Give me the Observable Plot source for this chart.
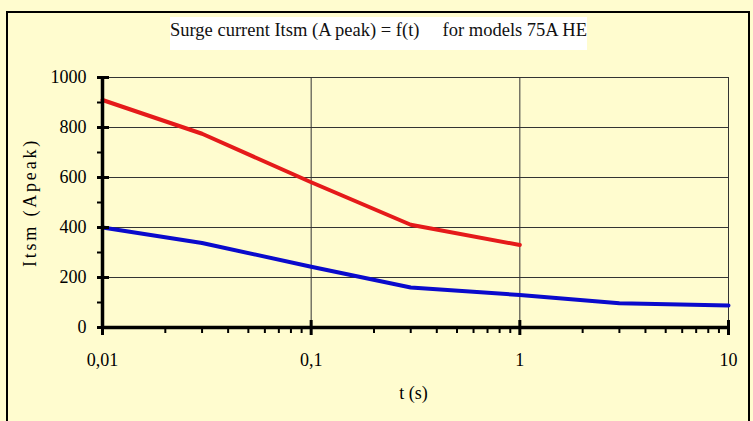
<!DOCTYPE html>
<html><head><meta charset="utf-8">
<script src="https://cdn.jsdelivr.net/npm/d3@7"></script>
<script src="https://cdn.jsdelivr.net/npm/@observablehq/plot@0.6"></script>
<style>
body{margin:0;background:#fff;}
#wrap{position:relative;width:753px;height:421px;background:#FFFCCF;overflow:hidden;font-family:"Liberation Serif","Times New Roman",serif;}
#frame{position:absolute;left:6px;top:11px;width:740px;height:420px;border:2px solid #000;border-bottom:none;}
#title{position:absolute;left:170px;top:17px;height:33px;line-height:26px;font-size:18.5px;background:#fff;white-space:pre;color:#111;}
#chart{position:absolute;left:0;top:0;width:753px;height:421px;}
#chart svg text{font-family:"Liberation Serif","Times New Roman",serif !important;font-variant:normal !important;}
</style></head><body>
<div id="wrap"><div id="frame"></div><div id="chart"></div><div id="title"></div></div>
<script>
const titleText = "Surge current Itsm (A peak) = f(t)     for models 75A HE";
const yLabel = "Itsm (Apeak)";
const xLabel = "t (s)";
const times = [0.01, 0.03, 0.1, 0.3, 1, 3, 10];
const redTimes = [0.01, 0.03, 0.1, 0.3, 1];
const redValues = [910, 775, 581, 411, 330];
const blueValues = [400, 338, 243, 160, 130, 97, 88];
const yMajor = [0, 200, 400, 600, 800, 1000];
const yMinor = [100, 300, 500, 700, 900];
const gridY = [200, 400, 600, 800, 1000];
const gridX = [0.1, 1, 10];
const xMajor = [0.01, 0.1, 1, 10];
const xMajorLabels = ["0,01", "0,1", "1", "10"];
const xMinor = [0.02, 0.03, 0.04, 0.05, 0.06, 0.07, 0.08, 0.09,
                0.2, 0.3, 0.4, 0.5, 0.6, 0.7, 0.8, 0.9,
                2, 3, 4, 5, 6, 7, 8, 9];

document.getElementById("title").textContent = titleText;

const red = redTimes.map((t, i) => ({t, v: redValues[i]}));
const blue = times.map((t, i) => ({t, v: blueValues[i]}));

const plot = Plot.plot({
  width: 753, height: 421,
  marginLeft: 102, marginRight: 25, marginTop: 77, marginBottom: 94,
  x: {type: "log", domain: [0.01, 10], label: null},
  y: {domain: [0, 1000], label: null},
  style: {background: "transparent", fontFamily: "Liberation Serif", fontSize: "18px", color: "#000"},
  marks: [
    Plot.ruleY(gridY, {stroke: "#333", strokeWidth: 1}),
    Plot.ruleX(gridX, {stroke: "#333", strokeWidth: 1}),
    Plot.line(red, {x: "t", y: "v", stroke: "#E51A1A", strokeWidth: 4}),
    Plot.line(blue, {x: "t", y: "v", stroke: "#0A0ACC", strokeWidth: 4}),
    Plot.ruleY([0], {stroke: "#000", strokeWidth: 3.5}),
    Plot.ruleX([0.01], {stroke: "#000", strokeWidth: 3.5}),
    Plot.axisY(yMajor, {tickSize: 12, dx: 7, tickPadding: 11, strokeWidth: 3, label: null,
      tickFormat: d => String(d), fontSize: 18}),
    Plot.axisY(yMinor, {tickSize: 5, tickFormat: () => "", strokeWidth: 2, label: null}),
    Plot.axisX(xMajor, {tickSize: 15, dy: -7, tickPadding: 18, strokeWidth: 3, label: null,
      tickFormat: d => xMajorLabels[xMajor.indexOf(d)], fontSize: 18}),
    Plot.axisX(xMinor, {tickSize: 6, tickFormat: () => "", strokeWidth: 2, label: null}),
    Plot.text([yLabel], {frameAnchor: "left", textAnchor: "middle", lineAnchor: "middle", rotate: -90, dx: -72, fontSize: 18}),
    Plot.text([xLabel], {frameAnchor: "bottom", textAnchor: "middle", lineAnchor: "middle", dy: 66, dx: -2, fontSize: 18})
  ]
});
d3.select(plot).selectAll("text").filter(function() { return this.textContent === yLabel; })
  .attr("letter-spacing", "2.8px");
document.getElementById("chart").appendChild(plot);
</script>
</body></html>
